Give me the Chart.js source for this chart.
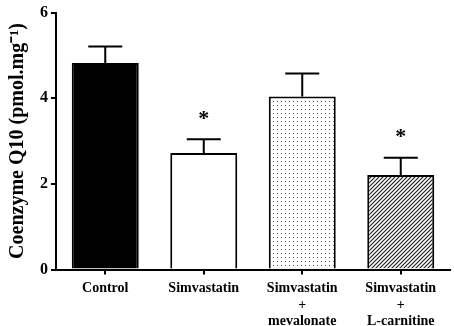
<!DOCTYPE html>
<html><head><meta charset="utf-8">
<script src="https://cdn.jsdelivr.net/npm/chart.js@4/dist/chart.umd.min.js"></script>
<style>html,body{margin:0;padding:0;background:#fff;}canvas{display:block;}</style>
</head><body>
<canvas id="c" width="454" height="326"></canvas>
<script>
const categories = [["Control"], ["Simvastatin"], ["Simvastatin", "+", "mevalonate"], ["Simvastatin", "+", "L-carnitine"]];
const means = [4.82, 2.72, 4.04, 2.21];
const sems = [0.39, 0.32, 0.54, 0.40];
const significant = [false, true, false, true];
const yTicks = [0, 2, 4, 6];
const yTitle = "Coenzyme Q10 (pmol.mg\u207B\u00B9)";

function dotPattern() {
  const c = document.createElement('canvas'); c.width = 4; c.height = 4;
  const g = c.getContext('2d');
  g.fillStyle = '#fff'; g.fillRect(0, 0, 4, 4);
  g.fillStyle = '#555'; g.fillRect(1, 1, 1, 1);
  return g.createPattern(c, 'repeat');
}
function hatchPattern() {
  const s = 4;
  const c = document.createElement('canvas'); c.width = s; c.height = s;
  const g = c.getContext('2d');
  g.fillStyle = '#fff'; g.fillRect(0, 0, s, s);
  g.strokeStyle = '#222'; g.lineWidth = 1.2;
  g.beginPath();
  g.moveTo(0, s); g.lineTo(s, 0);
  g.moveTo(-1, 1); g.lineTo(1, -1);
  g.moveTo(s - 1, s + 1); g.lineTo(s + 1, s - 1);
  g.stroke();
  return g.createPattern(c, 'repeat');
}
const fills = ['#000', '#fff', dotPattern(), hatchPattern()];

const errPlugin = {
  id: 'errs',
  afterDatasetsDraw(chart) {
    const ctx = chart.ctx, ys = chart.scales.y;
    const meta = chart.getDatasetMeta(0);
    ctx.save();
    ctx.strokeStyle = '#000'; ctx.lineWidth = 2;
    meta.data.forEach((bar, i) => {
      const x = bar.x;
      const yTop = ys.getPixelForValue(means[i]);
      const yErr = ys.getPixelForValue(means[i] + sems[i]);
      ctx.beginPath();
      ctx.moveTo(x, yTop); ctx.lineTo(x, yErr);
      ctx.moveTo(x - 17, yErr); ctx.lineTo(x + 17, yErr);
      ctx.stroke();
      if (significant[i]) {
        ctx.fillStyle = '#000';
        ctx.font = 'bold 22px "Liberation Serif"';
        ctx.textAlign = 'center'; ctx.textBaseline = 'middle';
        ctx.fillText('*', x, yErr - 20);
      }
    });
    ctx.restore();
  }
};

new Chart(document.getElementById('c'), {
  type: 'bar',
  data: {
    labels: categories,
    datasets: [{
      data: means,
      backgroundColor: fills,
      borderColor: '#000',
      borderWidth: 2,
      borderSkipped: 'bottom',
      categoryPercentage: 1,
      barPercentage: 0.68
    }]
  },
  options: {
    responsive: false,
    animation: false,
    devicePixelRatio: 1,
    layout: { padding: { top: 10, right: 4, left: 0, bottom: 0 } },
    plugins: { legend: { display: false }, tooltip: { enabled: false } },
    scales: {
      x: {
        grid: { offset: false, drawOnChartArea: false, tickLength: 5, lineWidth: 2, color: '#000' },
        border: { display: true, color: '#000', width: 2 },
        ticks: { color: '#000', font: { family: '"Liberation Serif"', size: 14, weight: 'bold', lineHeight: 1.18 }, padding: 6, maxRotation: 0, autoSkip: false },
        afterFit(s) { s.height = 56.5; }
      },
      y: {
        min: 0, max: 6,
        afterBuildTicks(s) { s.ticks = yTicks.map(v => ({ value: v })); },
        grid: { drawOnChartArea: false, tickLength: 5, lineWidth: 2, color: '#000' },
        border: { display: true, color: '#000', width: 2 },
        ticks: { color: '#000', font: { family: '"Liberation Serif"', size: 16, weight: 'bold' }, padding: 3 },
        title: { display: true, text: yTitle, color: '#000', font: { family: '"Liberation Serif"', size: 20, weight: 'bold' }, padding: { top: 6, bottom: 0 } },
        afterFit(s) { s.width = 56; }
      }
    }
  },
  plugins: [errPlugin]
});
</script>
</body></html>
